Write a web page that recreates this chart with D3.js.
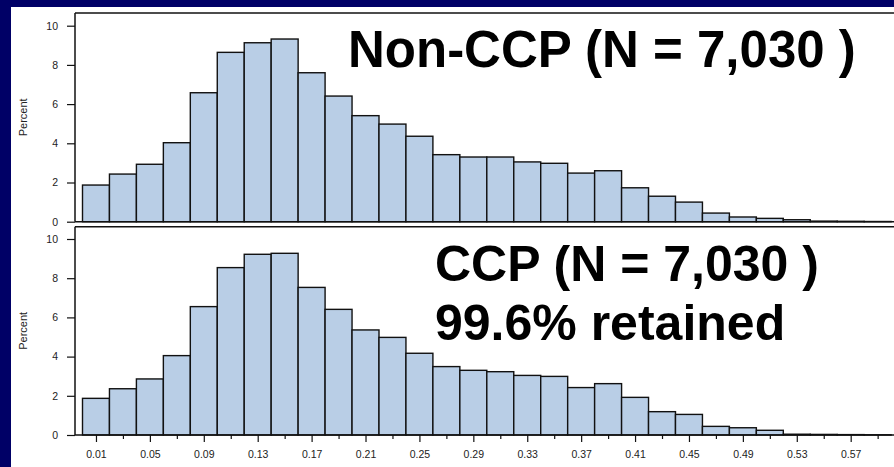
<!DOCTYPE html>
<html>
<head>
<meta charset="utf-8">
<script src="https://cdn.jsdelivr.net/npm/d3@7"></script>
<style>
  html, body { margin: 0; padding: 0; background: #fff; }
  svg { display: block; }
  text { font-family: "Liberation Sans", Arial, sans-serif; }
</style>
</head>
<body>
<script>
// Histogram bins (lower edges, width 0.02)
const binStarts = [0.00, 0.02, 0.04, 0.06, 0.08, 0.10, 0.12, 0.14, 0.16, 0.18,
                   0.20, 0.22, 0.24, 0.26, 0.28, 0.30, 0.32, 0.34, 0.36, 0.38,
                   0.40, 0.42, 0.44, 0.46, 0.48, 0.50, 0.52, 0.54, 0.56, 0.58];
const binWidth = 0.02;

// Percent of records per bin
const nonCcpPct = [1.87, 2.43, 2.93, 4.03, 6.58, 8.64, 9.13, 9.32, 7.60, 6.41,
                   5.41, 4.98, 4.36, 3.42, 3.30, 3.30, 3.05, 2.98, 2.48, 2.60,
                   1.73, 1.30, 1.00, 0.44, 0.24, 0.17, 0.10, 0.03, 0.02, 0.01];
const ccpPct    = [1.87, 2.36, 2.86, 4.05, 6.55, 8.54, 9.22, 9.27, 7.53, 6.41,
                   5.36, 4.98, 4.17, 3.49, 3.30, 3.23, 3.04, 2.99, 2.42, 2.62,
                   1.92, 1.19, 1.05, 0.44, 0.37, 0.24, 0.04, 0.03, 0.02, 0.01];

// Axis ticks
const xMajorTicks = [0.01, 0.05, 0.09, 0.13, 0.17, 0.21, 0.25, 0.29, 0.33, 0.37, 0.41, 0.45, 0.49, 0.53, 0.57];
const xMajorLabels = ["0.01", "0.05", "0.09", "0.13", "0.17", "0.21", "0.25", "0.29", "0.33", "0.37", "0.41", "0.45", "0.49", "0.53", "0.57"];
const xMinorTicks = [0.03, 0.07, 0.11, 0.15, 0.19, 0.23, 0.27, 0.31, 0.35, 0.39, 0.43, 0.47, 0.51, 0.55, 0.59];
const yTicks = [0, 2, 4, 6, 8, 10];

// Panel annotations
const topTitle = ["Non-CCP (N = 7,030 )"];
const bottomTitle = ["CCP (N = 7,030 )", "99.6% retained"];

const W = 894, H = 467;
const navy = "#000066";
const barFill = "#b9cee6";
const ink = "#111";

const svg = d3.select("body").append("svg").attr("width", W).attr("height", H);
svg.append("rect").attr("width", W).attr("height", H).attr("fill", "#fff");

// slide frame
svg.append("rect").attr("x", 0).attr("y", 0).attr("width", W).attr("height", 7).attr("fill", navy);
svg.append("rect").attr("x", 0).attr("y", 0).attr("width", 11).attr("height", H).attr("fill", navy);

const x = d3.scaleLinear().domain([0, 0.6]).range([82.5, 82.5 + 0.6 * 1347.7]);
const frameLeft = 75;

function panel(values, frameTop, yZero, yTen, showX) {
  const y = d3.scaleLinear().domain([0, 10]).range([yZero, yTen]);
  const g = svg.append("g");

  // bars
  g.selectAll("rect.bar").data(values).join("rect")
    .attr("class", "bar")
    .attr("x", (d, i) => x(binStarts[i]))
    .attr("width", (d, i) => x(binStarts[i] + binWidth) - x(binStarts[i]))
    .attr("y", d => y(d))
    .attr("height", d => y(0) - y(d))
    .attr("fill", barFill)
    .attr("stroke", ink)
    .attr("stroke-width", 1.4);

  // frame: top and left borders
  g.append("line").attr("x1", frameLeft).attr("x2", W + 5)
    .attr("y1", frameTop).attr("y2", frameTop)
    .attr("stroke", ink).attr("stroke-width", 1.5);
  g.append("line").attr("x1", frameLeft).attr("x2", frameLeft)
    .attr("y1", frameTop).attr("y2", yZero)
    .attr("stroke", ink).attr("stroke-width", 1.5);

  // y axis
  const yAxis = d3.axisLeft(y).tickValues(yTicks).tickSize(8).tickPadding(9).tickFormat(d3.format("d"));
  const ya = g.append("g").attr("transform", `translate(${frameLeft},0)`).call(yAxis);
  ya.select(".domain").remove();
  ya.selectAll(".tick line").attr("stroke", ink).attr("stroke-width", 1.2);
  ya.selectAll(".tick text").attr("font-size", "10.5px").attr("fill", "#222")
    .attr("font-family", "Liberation Sans, Arial, sans-serif");

  // baseline
  g.append("line").attr("x1", frameLeft).attr("x2", W + 5)
    .attr("y1", yZero).attr("y2", yZero)
    .attr("stroke", ink).attr("stroke-width", 1.5);

  if (showX) {
    const xa = g.append("g").attr("transform", `translate(0,${yZero})`)
      .call(d3.axisBottom(x).tickValues(xMajorTicks).tickSize(7).tickPadding(9)
        .tickFormat((d, i) => xMajorLabels[i]));
    xa.select(".domain").remove();
    xa.selectAll(".tick line").attr("stroke", ink).attr("stroke-width", 1.2);
    xa.selectAll(".tick text").attr("font-size", "10.5px").attr("fill", "#222")
      .attr("font-family", "Liberation Sans, Arial, sans-serif");
    const xm = g.append("g").attr("transform", `translate(0,${yZero})`)
      .call(d3.axisBottom(x).tickValues(xMinorTicks).tickSize(4).tickFormat(""));
    xm.select(".domain").remove();
    xm.selectAll(".tick line").attr("stroke", ink).attr("stroke-width", 1.2);
  }

  // y title
  const mid = (frameTop + yZero) / 2;
  g.append("text")
    .attr("transform", `translate(27,${mid}) rotate(-90)`)
    .attr("text-anchor", "middle")
    .attr("font-size", "11px")
    .attr("fill", "#222")
    .text("Percent");
  return y;
}

panel(nonCcpPct, 13, 221.7, 25.7, false);
panel(ccpPct, 226.7, 435, 239, true);

// panel titles
svg.append("text").attr("x", 348).attr("y", 67)
  .attr("font-size", "51px").attr("font-weight", "bold").attr("fill", "#000")
  .text(topTitle[0]);
svg.selectAll("text.bt").data(bottomTitle).join("text")
  .attr("class", "bt")
  .attr("x", 435)
  .attr("y", (d, i) => [281, 340][i])
  .attr("font-size", "50px").attr("font-weight", "bold").attr("fill", "#000")
  .text(d => d);
</script>
</body>
</html>
